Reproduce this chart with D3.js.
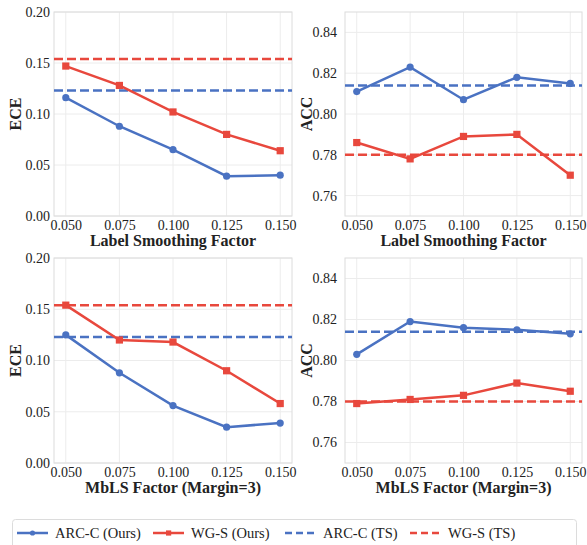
<!DOCTYPE html>
<html>
<head>
<meta charset="utf-8">
<script src="https://cdn.jsdelivr.net/npm/d3@7/dist/d3.min.js"></script>
<style>
  body { margin: 0; background: #fff; }
  svg { display: block; }
</style>
</head>
<body>
<svg id="chart" width="587" height="545" font-family="Liberation Serif"></svg>
<script>
// 数据
const factors = [0.05, 0.075, 0.1, 0.125, 0.15]
const xTicks = ['0.050', '0.075', '0.100', '0.125', '0.150']

const lsEceArc = [0.116, 0.088, 0.065, 0.039, 0.040]
const lsEceWg = [0.147, 0.128, 0.102, 0.080, 0.064]
const lsAccArc = [0.811, 0.823, 0.807, 0.818, 0.815]
const lsAccWg = [0.786, 0.778, 0.789, 0.790, 0.770]

const mblsEceArc = [0.125, 0.088, 0.056, 0.035, 0.039]
const mblsEceWg = [0.154, 0.120, 0.118, 0.090, 0.058]
const mblsAccArc = [0.803, 0.819, 0.816, 0.815, 0.813]
const mblsAccWg = [0.779, 0.781, 0.783, 0.789, 0.785]

// TS 基线
const tsEce = { arc: 0.123, wg: 0.154 }
const tsAcc = { arc: 0.814, wg: 0.780 }

const eceTicks = [0, 0.05, 0.10, 0.15, 0.20]
const accTicks = [0.76, 0.78, 0.80, 0.82, 0.84]

const legendNames = ['ARC-C (Ours)', 'WG-S (Ours)', 'ARC-C (TS)', 'WG-S (TS)']

const BLUE = '#4a72c2'
const RED = '#e8483d'
const FONT = 'Liberation Serif'

const svg = d3.select('#chart')

const panels = [
    { x0: 54, y0: 12, x1: 292, y1: 216, yLabel: 'ECE', xLabel: 'Label Smoothing Factor', pad: 4,
      domain: [0, 0.2], ticks: eceTicks, arc: lsEceArc, wg: lsEceWg, ts: tsEce },
    { x0: 345, y0: 12, x1: 582, y1: 216, yLabel: 'ACC', xLabel: 'Label Smoothing Factor', pad: 8,
      domain: [0.75, 0.85], ticks: accTicks, arc: lsAccArc, wg: lsAccWg, ts: tsAcc },
    { x0: 54, y0: 258, x1: 292, y1: 463, yLabel: 'ECE', xLabel: 'MbLS Factor (Margin=3)', pad: 4,
      domain: [0, 0.2], ticks: eceTicks, arc: mblsEceArc, wg: mblsEceWg, ts: tsEce },
    { x0: 345, y0: 258, x1: 582, y1: 463, yLabel: 'ACC', xLabel: 'MbLS Factor (Margin=3)', pad: 8,
      domain: [0.75, 0.85], ticks: accTicks, arc: mblsAccArc, wg: mblsAccWg, ts: tsAcc },
]

const drawPanel = (p) => {
    const x = d3.scaleLinear().domain([0.0445, 0.1555]).range([p.x0, p.x1])
    const y = d3.scaleLinear().domain(p.domain).range([p.y1, p.y0])
    const g = svg.append('g')

    // 网格
    g.selectAll('.vg').data(factors).enter().append('line')
        .attr('x1', d => x(d)).attr('x2', d => x(d))
        .attr('y1', p.y0).attr('y2', p.y1)
        .attr('stroke', '#ececec').attr('stroke-width', 1)
    g.selectAll('.hg').data(p.ticks).enter().append('line')
        .attr('x1', p.x0).attr('x2', p.x1)
        .attr('y1', d => y(d)).attr('y2', d => y(d))
        .attr('stroke', '#ececec').attr('stroke-width', 1)

    // 边框
    g.append('rect')
        .attr('x', p.x0).attr('y', p.y0)
        .attr('width', p.x1 - p.x0).attr('height', p.y1 - p.y0)
        .attr('fill', 'none').attr('stroke', '#dcdcdc').attr('stroke-width', 1)

    // 坐标轴文字
    const xa = g.append('g').attr('transform', `translate(0,${p.y1})`)
        .call(d3.axisBottom(x).tickValues(factors).tickFormat((d, i) => xTicks[i]).tickSize(0).tickPadding(4))
    const ya = g.append('g').attr('transform', `translate(${p.x0},0)`)
        .call(d3.axisLeft(y).tickValues(p.ticks).tickFormat(d3.format('.2f')).tickSize(0).tickPadding(p.pad))
    ;[xa, ya].forEach(a => {
        a.attr('font-family', FONT).attr('font-size', 14)
        a.select('.domain').remove()
        a.selectAll('text').attr('fill', '#222')
    })

    g.append('text')
        .attr('x', (p.x0 + p.x1) / 2).attr('y', p.y1 + 30)
        .attr('text-anchor', 'middle').attr('font-weight', 'bold').attr('font-size', 16)
        .attr('font-family', FONT).attr('fill', '#222').text(p.xLabel)
    g.append('text')
        .attr('transform', `translate(${p.x0 - 33},${(p.y0 + p.y1) / 2}) rotate(-90)`)
        .attr('text-anchor', 'middle').attr('font-weight', 'bold').attr('font-size', 16)
        .attr('font-family', FONT).attr('fill', '#222').text(p.yLabel)

    // 基线
    ;[[p.ts.arc, BLUE], [p.ts.wg, RED]].forEach(([v, c]) => {
        g.append('line')
            .attr('x1', p.x0).attr('x2', p.x1)
            .attr('y1', y(v)).attr('y2', y(v))
            .attr('stroke', c).attr('stroke-width', 2.5).attr('stroke-dasharray', '9,4')
    })

    const line = d3.line().x((d, i) => x(factors[i])).y(d => y(d))

    g.append('path').datum(p.arc).attr('d', line)
        .attr('fill', 'none').attr('stroke', BLUE).attr('stroke-width', 2.5)
    g.selectAll('.pa').data(p.arc).enter().append('circle')
        .attr('cx', (d, i) => x(factors[i])).attr('cy', d => y(d)).attr('r', 3.6)
        .attr('fill', BLUE)

    g.append('path').datum(p.wg).attr('d', line)
        .attr('fill', 'none').attr('stroke', RED).attr('stroke-width', 2.5)
    g.selectAll('.pw').data(p.wg).enter().append('rect')
        .attr('x', (d, i) => x(factors[i]) - 3.6).attr('y', d => y(d) - 3.6)
        .attr('width', 7.2).attr('height', 7.2)
        .attr('fill', RED)
}

panels.forEach(drawPanel)

// 图例
const legend = svg.append('g')
legend.append('rect')
    .attr('x', 12.5).attr('y', 519.5).attr('width', 564).attr('height', 30).attr('rx', 3)
    .attr('fill', '#fff').attr('stroke', '#dcdcdc')

const legendX = [17, 153, 285, 410]
legendNames.forEach((name, i) => {
    const lx = legendX[i]
    const ly = 533
    const color = i % 2 === 0 ? BLUE : RED
    const ln = legend.append('line')
        .attr('x1', lx).attr('x2', lx + 31).attr('y1', ly).attr('y2', ly)
        .attr('stroke', color).attr('stroke-width', 2.5)
    if (i >= 2) {
        ln.attr('stroke-dasharray', '7,4').attr('x2', lx + 29)
    } else if (i === 0) {
        legend.append('circle').attr('cx', lx + 15.5).attr('cy', ly).attr('r', 2.6).attr('fill', color)
    } else {
        legend.append('rect').attr('x', lx + 13).attr('y', ly - 2.6).attr('width', 5.2).attr('height', 5.2).attr('fill', color)
    }
    legend.append('text')
        .attr('x', lx + 38).attr('y', ly + 5)
        .attr('font-family', FONT).attr('font-size', 14.5).attr('fill', '#222').text(name)
})
</script>
</body>
</html>
